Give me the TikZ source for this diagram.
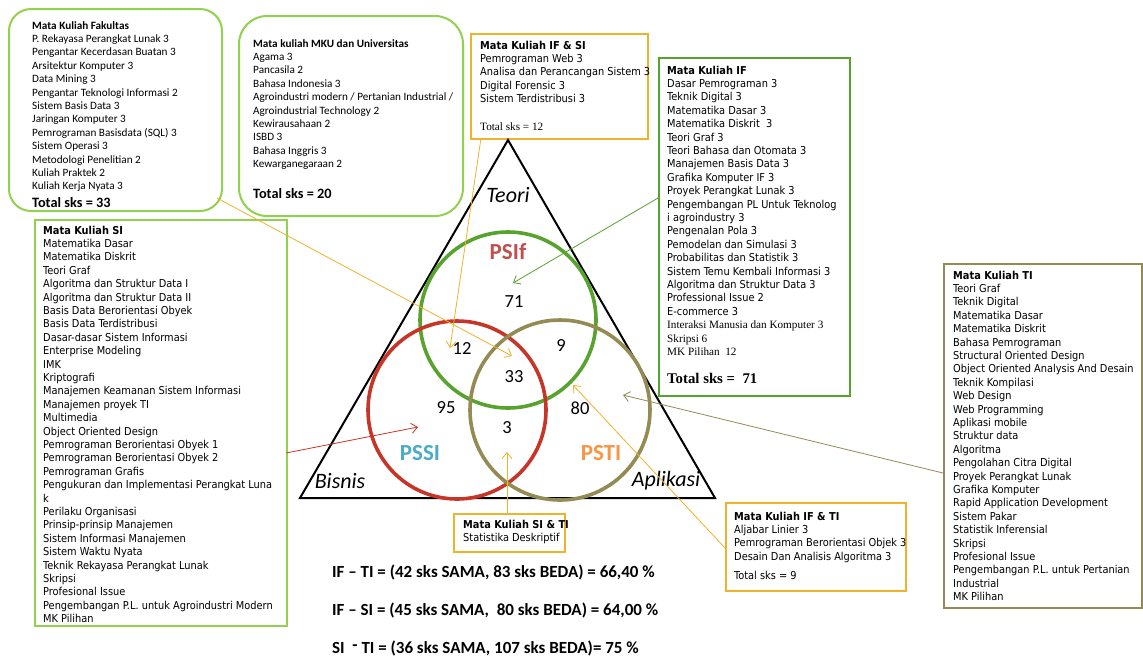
\documentclass[tikz,border=0pt]{standalone}
\usepackage{fontspec}
\setmainfont{Carlito}
\newfontfamily\tah{DejaVu Sans Condensed}
\newfontfamily\tnr{Liberation Serif}
\usetikzlibrary{arrows.meta}
\definecolor{lgreen}{HTML}{92D050}
\definecolor{dgreen}{HTML}{58A22E}
\definecolor{goldc}{HTML}{EEB32B}
\definecolor{olivec}{HTML}{948A54}
\definecolor{redc}{HTML}{C63527}
\definecolor{pinkc}{HTML}{C0504D}
\definecolor{cyanc}{HTML}{4BACC6}
\definecolor{orangec}{HTML}{F79646}
\begin{document}
\begin{tikzpicture}[x=1pt,y=-1pt,
  box/.style={draw, line width=2pt, anchor=north west, inner sep=0pt},
  txt/.style={anchor=base west, inner sep=0pt},
  cal/.style={font=\fontsize{11.2}{13.4}\selectfont},
  tahf/.style={font=\tah\fontsize{10.9}{13.4}\selectfont},
  tot/.style={anchor=base west, inner sep=0pt, font=\bfseries\fontsize{14.3}{16}\selectfont},
  num/.style={inner sep=0pt, font=\fontsize{18.5}{20}\selectfont},
  lab/.style={inner sep=0pt, font=\bfseries\fontsize{23}{25}\selectfont},
  corner/.style={inner sep=0pt, font=\itshape\fontsize{22}{24}\selectfont},
  circ/.style={line width=3.6pt},
  arr/.style={line width=0.8pt, -{Straight Barb[length=6pt,width=10pt]}},
  bottom/.style={anchor=base west, inner sep=0pt, font=\bfseries\fontsize{17}{19}\selectfont}]
\useasboundingbox (0,0) rectangle (1143,657);
\fill[white] (0,0) rectangle (1143,657);

% boxes
\node[box, draw=lgreen, rounded corners=22pt, minimum width=213pt, minimum height=202pt] (fak) at (8,8) {};
\node[box, draw=lgreen, rounded corners=28pt, minimum width=224pt, minimum height=200pt] (mku) at (238,15) {};
\node[box, draw=goldc, minimum width=177pt, minimum height=105pt] (ifsi) at (470,33) {};
\node[box, draw=dgreen, minimum width=191pt, minimum height=338pt] (ifb) at (658,57) {};
\node[box, draw=lgreen, minimum width=252pt, minimum height=406pt] (sib) at (34,219) {};
\node[box, draw=olivec, minimum width=198pt, minimum height=344pt] (tib) at (943,263) {};
\node[box, draw=goldc, minimum width=111pt, minimum height=38pt] (siti) at (453,513) {};
\node[box, draw=goldc, minimum width=180pt, minimum height=88pt] (ifti) at (725,502) {};

% texts
\node[txt, cal] (fakt) at (32,29) {\begin{tabular}[t]{@{}l@{}}\textbf{Mata Kuliah Fakultas}\\
P. Rekayasa Perangkat Lunak 3\\ Pengantar Kecerdasan Buatan 3\\ Arsitektur Komputer 3\\
Data Mining 3\\ Pengantar Teknologi Informasi 2\\ Sistem Basis Data 3\\ Jaringan Komputer 3\\
Pemrograman Basisdata (SQL) 3\\ Sistem Operasi 3\\ Metodologi Penelitian 2\\ Kuliah Praktek 2\\
Kuliah Kerja Nyata 3\end{tabular}};
\node[tot] (faktot) at (32,207) {Total sks = 33};

\node[txt, cal] (mkut) at (253,47) {\begin{tabular}[t]{@{}l@{}}\textbf{Mata kuliah MKU dan Universitas}\\
Agama 3\\ Pancasila 2\\ Bahasa Indonesia 3\\ Agroindustri modern / Pertanian Industrial /\\
Agroindustrial Technology 2\\ Kewirausahaan 2\\ ISBD 3\\ Bahasa Inggris 3\\ Kewarganegaraan 2\end{tabular}};
\node[tot] (mkutot) at (253,198) {Total sks = 20};

\node[txt, tahf] (ifsit) at (480,49) {\begin{tabular}[t]{@{}l@{}}\textbf{Mata Kuliah IF \& SI}\\
Pemrograman Web 3\\ Analisa dan Perancangan Sistem 3\\ Digital Forensic 3\\ Sistem Terdistribusi 3\\[14.6pt]
{\tnr\fontsize{11.2}{12}\selectfont Total sks = 12}\end{tabular}};

\node[txt, tahf] (ifbt) at (667,74) {\begin{tabular}[t]{@{}l@{}}\textbf{Mata Kuliah IF}\\
Dasar Pemrograman 3\\ Teknik Digital 3\\ Matematika Dasar 3\\ Matematika Diskrit\ \ 3\\ Teori Graf 3\\
Teori Bahasa dan Otomata 3\\ Manajemen Basis Data 3\\ Grafika Komputer IF 3\\ Proyek Perangkat Lunak 3\\
Pengembangan PL Untuk Teknolog\\ i agroindustry 3\\ Pengenalan Pola 3\\ Pemodelan dan Simulasi 3\\
Probabilitas dan Statistik 3\\ Sistem Temu Kembali Informasi 3\\ Algoritma dan Struktur Data 3\\
Professional Issue 2\\ E-commerce 3\\
{\tnr\fontsize{11.2}{12}\selectfont Interaksi Manusia dan Komputer 3}\\
{\tnr\fontsize{11.2}{12}\selectfont Skripsi 6}\\
{\tnr\fontsize{11.2}{12}\selectfont MK Pilihan\ \ 12}\\[14.2pt]
{\tnr\bfseries\fontsize{14.8}{15}\selectfont Total sks =\ \ 71}\end{tabular}};

\node[txt, tahf] (sibt) at (43,234) {\begin{tabular}[t]{@{}l@{}}\textbf{Mata Kuliah SI}\\
Matematika Dasar\\ Matematika Diskrit\\ Teori Graf\\ Algoritma dan Struktur Data I\\
Algoritma dan Struktur Data II\\ Basis Data Berorientasi Obyek\\ Basis Data Terdistribusi\\
Dasar-dasar Sistem Informasi\\ Enterprise Modeling\\ IMK\\ Kriptografi\\
Manajemen Keamanan Sistem Informasi\\ Manajemen proyek TI\\ Multimedia\\ Object Oriented Design\\
Pemrograman Berorientasi Obyek 1\\ Pemrograman Berorientasi Obyek 2\\ Pemrograman Grafis\\
Pengukuran dan Implementasi Perangkat Luna\\ k\\ Perilaku Organisasi\\ Prinsip-prinsip Manajemen\\
Sistem Informasi Manajemen\\ Sistem Waktu Nyata\\ Teknik Rekayasa Perangkat Lunak\\ Skripsi\\
Profesional Issue\\ Pengembangan P.L. untuk Agroindustri Modern\\ MK Pilihan\end{tabular}};

\node[txt, tahf] (tibt) at (953,279) {\begin{tabular}[t]{@{}l@{}}\textbf{Mata Kuliah TI}\\
Teori Graf\\ Teknik Digital\\ Matematika Dasar\\ Matematika Diskrit\\ Bahasa Pemrograman\\
Structural Oriented Design\\ Object Oriented Analysis And Desain\\ Teknik Kompilasi\\ Web Design\\
Web Programming\\ Aplikasi mobile\\ Struktur data\\ Algoritma\\ Pengolahan Citra Digital\\
Proyek Perangkat Lunak\\ Grafika Komputer\\ Rapid Application Development\\ Sistem Pakar\\
Statistik Inferensial\\ Skripsi\\ Profesional Issue\\ Pengembangan P.L. untuk Pertanian\\
Industrial\\ MK Pilihan\end{tabular}};

\node[txt, tahf] (sitit) at (463,528) {\begin{tabular}[t]{@{}l@{}}\textbf{Mata Kuliah SI \& TI}\\
Statistika Deskriptif\end{tabular}};

\node[txt, tahf] (iftit) at (734,520) {\begin{tabular}[t]{@{}l@{}}\textbf{Mata Kuliah IF \& TI}\\
Aljabar Linier 3\\ Pemrograman Berorientasi Objek 3\\ Desain Dan Analisis Algoritma 3\\[5.7pt]
Total sks = 9\end{tabular}};

% triangle
\node[inner sep=0pt] (apex) at (508,140) {};
\node[inner sep=0pt] (bl) at (300,498) {};
\node[inner sep=0pt] (br) at (715,498) {};
\draw[line width=2pt, line join=miter] (apex.center) -- (bl.center) -- (br.center) -- cycle;

% circles
\node[circle, draw=dgreen, circ, minimum size=176pt, inner sep=0pt] (cif) at (508,320) {};
\node[circle, draw=redc, circ, minimum size=178pt, inner sep=0pt] (csi) at (457,410) {};
\node[circle, draw=olivec, circ, minimum size=180pt, inner sep=0pt] (cti) at (560,410) {};

% labels
\node[corner] (teori) at (508,195) {Teori};
\node[corner] (bisnis) at (340,481) {Bisnis};
\node[corner] (aplikasi) at (666,481) {Aplikasi};
\node[lab, text=pinkc] (psif) at (508,252) {PSIf};
\node[lab, text=cyanc] (pssi) at (420,453) {PSSI};
\node[lab, text=orangec] (psti) at (601,453) {PSTI};
\node[num] (n71) at (514,302) {71};
\node[num] (n12) at (462,348) {12};
\node[num] (n9) at (561,345) {9};
\node[num] (n33) at (514,377) {33};
\node[num] (n95) at (446,408) {95};
\node[num] (n80) at (580,408) {80};
\node[num] (n3) at (507,428) {3};

% connector ends
\coordinate (fakout) at (217,198);
\coordinate (ifsiout) at (481,138);
\coordinate (ifbout) at (658,198);
\coordinate (sibout) at (286,453);
\coordinate (sitiout) at (507,513);
\coordinate (iftiout) at (725,548);
\coordinate (tibout) at (943,473);
\coordinate (a33) at (512,356);
\coordinate (a12) at (450,348);
\coordinate (a71) at (513,283);
\coordinate (a95) at (418,427);
\coordinate (a3) at (507,452);
\coordinate (a9) at (573,385);
\coordinate (a80) at (623,395);

\draw[arr, goldc] (fakout) -- (a33);
\draw[arr, goldc] (ifsiout) -- (a12);
\draw[arr, dgreen] (ifbout) -- (a71);
\draw[arr, redc] (sibout) -- (a95);
\draw[arr, goldc] (sitiout) -- (a3);
\draw[arr, goldc] (iftiout) -- (a9);
\draw[arr, olivec] (tibout) -- (a80);

% bottom text
\node[bottom] (l1) at (332,577) {IF -- TI = (42 sks SAMA, 83 sks BEDA) = 66,40 \%};
\node[bottom] (l2) at (332,615) {IF -- SI = (45 sks SAMA, \ 80 sks BEDA) = 64,00 \%};
\node[bottom] (l3) at (332,653) {SI \ \raisebox{3pt}{-} TI = (36 sks SAMA, 107 sks BEDA)= 75 \%};
\end{tikzpicture}
\end{document}
